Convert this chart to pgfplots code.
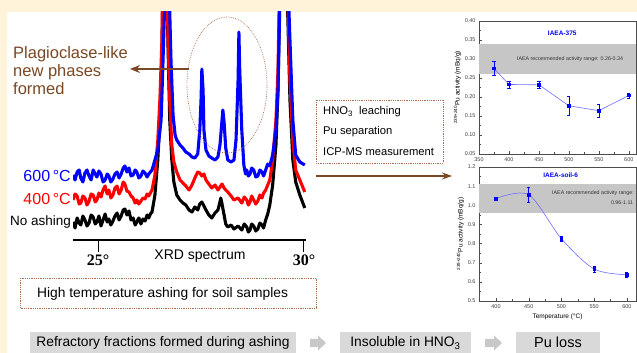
\documentclass[border=0pt]{standalone}
\usepackage{fontspec}
\setmainfont{Liberation Sans}
\newfontfamily\tnr{Liberation Serif}
\usepackage{pgfplots}
\pgfplotsset{compat=1.18}
\usetikzlibrary{arrows.meta}
\definecolor{cream}{RGB}{255,244,218}
\definecolor{brn}{RGB}{122,72,36}
\definecolor{dotbrn}{RGB}{170,110,80}
\definecolor{boxgray}{RGB}{217,217,217}
\definecolor{arrgray}{RGB}{200,200,200}
\definecolor{lineblue}{RGB}{110,110,255}
\newcommand\fs[1]{\fontsize{#1}{#1}\selectfont}
\tikzset{fdot/.style={dotbrn, line width=0.7pt, dash pattern=on 0.7pt off 1.1pt}}
\begin{document}
\begin{tikzpicture}[x=1pt,y=1pt]
\useasboundingbox (0,0) rectangle (637,353);
\fill[cream] (0,0) rectangle (637,353);
\fill[white] (7,0) rectangle (637,341);

% ---------- XRD spectra ----------
\begin{axis}[at={(73pt,113pt)}, anchor=south west, scale only axis,
  width=233pt, height=228pt,
  xmin=24.39, xmax=30.05, ymin=0, ymax=228,
  axis x line=bottom, axis y line=none,
  x axis line style={-, line width=1.8pt},
  xtick={25,30}, xticklabels={{\tnr\bfseries 25°},{\tnr\bfseries 30°}},
  xticklabel style={font=\fs{16}, inner sep=1pt, yshift=-2pt},
  tick align=outside, major tick length=12pt,
  x tick style={line width=1pt, black},
  clip=true]
\addplot[black, line width=3.1pt, line join=round] coordinates {
(24.39,18)(24.44,12)(24.49,22)(24.54,17)(24.58,15)(24.63,24)(24.68,20)(24.73,14)(24.78,17)(24.83,25)(24.88,23)(24.93,16)(24.97,18)(25.02,24)(25.07,14)(25.12,20)(25.17,26)(25.22,18)(25.26,21)(25.31,15)(25.36,19)(25.41,24)(25.46,27)(25.51,20)(25.56,24)(25.61,30)(25.65,31)(25.70,25)(25.75,29)(25.80,20)(25.85,22)(25.90,15)(25.94,18)(25.99,22)(26.04,16)(26.09,21)(26.14,19)(26.19,25)(26.23,22)(26.27,26)(26.31,28)
(26.38,45)(26.45,80)(26.50,120)(26.55,180)(26.57,250)(26.62,320)(26.67,250)(26.70,190)(26.74,120)(26.79,80)(26.84,58)(26.91,45)(26.99,40)(27.06,37)(27.13,35)(27.21,30)(27.28,28)(27.35,33)(27.42,30)(27.47,36)(27.52,38)(27.57,34)(27.62,30)(27.69,25)(27.76,22)(27.84,27)(27.91,30)(27.96,38)(27.98,42)(28.01,36)(28.06,25)(28.10,16)(28.15,13)(28.23,15)(28.30,11)(28.40,14)
(28.49,10)(28.55,16)(28.61,13)(28.65,8)(28.69,10)(28.73,16)(28.78,14)(28.83,9)(28.88,11)(28.93,17)(28.98,15)(29.02,12)(29.07,20)(29.12,26)(29.17,35)
(29.24,55)(29.32,95)(29.37,150)(29.41,240)(29.46,320)(29.51,320)(29.56,290)(29.61,220)(29.66,140)(29.73,80)(29.80,58)(29.90,45)(30.02,32)};
\addplot[red, line width=3.1pt, line join=round] coordinates {
(24.39,40)(24.44,46)(24.49,44)(24.54,36)(24.58,37)(24.63,44)(24.68,42)(24.73,35)(24.78,39)(24.83,46)(24.88,45)(24.93,38)(24.97,40)(25.02,47)(25.07,43)(25.12,50)(25.17,54)(25.22,46)(25.26,50)(25.31,42)(25.36,45)(25.41,52)(25.46,54)(25.51,46)(25.56,50)(25.61,58)(25.65,56)(25.70,49)(25.75,48)(25.80,44)(25.85,42)(25.90,37)(25.94,40)(25.99,36)(26.04,39)(26.09,42)(26.14,41)(26.19,46)(26.23,44)(26.27,47)(26.31,50)
(26.38,65)(26.45,100)(26.50,140)(26.55,200)(26.57,260)(26.62,330)(26.67,260)(26.70,200)(26.74,140)(26.79,95)(26.84,78)(26.91,68)(26.99,60)(27.06,57)(27.13,54)(27.21,50)(27.28,55)(27.35,62)(27.42,68)(27.47,67)(27.52,64)(27.57,66)(27.62,60)(27.69,56)(27.76,52)(27.84,55)(27.91,50)(27.96,53)(28.01,56)(28.06,52)(28.10,50)(28.15,48)(28.23,44)(28.30,40)(28.40,42)
(28.49,37)(28.55,43)(28.61,40)(28.65,35)(28.69,38)(28.73,44)(28.78,40)(28.83,36)(28.88,39)(28.93,45)(28.98,42)(29.02,47)(29.07,50)(29.12,55)(29.17,60)
(29.24,80)(29.32,120)(29.37,170)(29.41,260)(29.46,330)(29.51,330)(29.56,300)(29.61,240)(29.66,160)(29.73,100)(29.80,70)(29.90,60)(30.02,48)};
\addplot[blue, line width=3.1pt, line join=round] coordinates {
(24.39,65)(24.44,60)(24.49,68)(24.54,70)(24.58,62)(24.63,58)(24.68,67)(24.73,70)(24.78,64)(24.83,60)(24.88,70)(24.93,66)(24.97,63)(25.02,69)(25.07,66)(25.12,58)(25.17,60)(25.22,66)(25.26,64)(25.31,58)(25.36,61)(25.41,66)(25.46,68)(25.51,62)(25.56,66)(25.61,72)(25.65,74)(25.70,68)(25.75,72)(25.80,64)(25.85,65)(25.90,70)(25.94,68)(25.99,62)(26.04,64)(26.09,69)(26.14,67)(26.19,63)(26.23,66)(26.27,68)(26.31,70)
(26.38,80)(26.45,90)(26.53,120)(26.57,170)(26.62,240)(26.67,330)(26.72,260)(26.77,180)(26.82,125)(26.87,105)(26.91,100)(26.99,95)(27.06,92)(27.13,88)(27.21,86)(27.28,83)(27.35,82)(27.42,86)(27.47,110)(27.50,140)(27.52,171)(27.55,150)(27.57,110)(27.62,90)(27.69,84)(27.76,82)(27.84,80)(27.91,83)(27.96,95)(28.01,120)(28.03,130)(28.06,118)(28.10,92)(28.15,80)(28.23,78)(28.30,80)(28.35,100)(28.40,160)(28.42,208)(28.44,170)(28.49,110)
(28.54,75)(28.58,66)(28.61,70)(28.65,64)(28.69,66)(28.73,72)(28.78,70)(28.83,63)(28.88,64)(28.93,70)(28.98,68)(29.02,64)(29.07,70)(29.12,76)(29.17,74)
(29.24,85)(29.32,110)(29.37,150)(29.41,230)(29.46,320)(29.51,330)(29.56,320)(29.61,260)(29.66,200)(29.73,120)(29.80,85)(29.90,78)(30.02,75)};
\end{axis}

% ellipse and arrow
\draw[fdot] (227,268) ellipse (40 and 68);
\draw[brn, line width=1.8pt, -{Stealth[length=10pt,width=8pt]}] (189,284) -- (130,284);
\node[brn, anchor=base west, inner sep=0, font=\fs{16.5}] at (13,294) {Plagioclase-like};
\node[brn, anchor=base west, inner sep=0, font=\fs{16.5}] at (13,276) {new phases};
\node[brn, anchor=base west, inner sep=0, font=\fs{16.5}] at (13,258) {formed};

\node[blue, anchor=base east, inner sep=0, font=\fs{16}] at (71,171) {600\,°C};
\node[red, anchor=base east, inner sep=0, font=\fs{16}] at (71,148) {400\,°C};
\node[black, anchor=base east, inner sep=0, font=\fs{13.5}] at (71,127) {No ashing};
\node[anchor=base, inner sep=0, font=\fs{14}] at (200,93) {XRD spectrum};

% box 1
\draw[fdot] (20,75) rectangle (316,45);
\node[anchor=west, inner sep=0, font=\fs{13.8}] at (37,59) {High temperature ashing for soil samples};

% middle box
\draw[fdot] (316,253) rectangle (443,190);
\node[anchor=west, inner sep=0, font=\fs{11.2}] at (323,241) {HNO\textsubscript{3}\ \ leaching};
\node[anchor=west, inner sep=0, font=\fs{11.2}] at (323,221) {Pu separation};
\node[anchor=west, inner sep=0, font=\fs{11.2}] at (323,201) {ICP-MS measurement};
\draw[brn, line width=1.5pt, -{Stealth[length=10pt,width=7pt]}] (316,177) -- (452,177);

% bottom row
\fill[boxgray] (30,0) rectangle (296,21);
\node[font=\fs{13.8}, inner sep=0] at (163,10) {Refractory fractions formed during ashing};
\fill[arrgray] (310,6)--(318,6)--(318,2.5)--(326,10)--(318,17.5)--(318,14)--(310,14)--cycle;
\fill[boxgray] (340,0) rectangle (471,21);
\node[font=\fs{13.8}, inner sep=0] at (405.5,10) {Insoluble in HNO\textsubscript{3}};
\fill[arrgray] (485,6)--(494,6)--(494,2.5)--(502,10)--(494,17.5)--(494,14)--(485,14)--cycle;
\fill[boxgray] (516,0) rectangle (600,21);
\node[font=\fs{14.5}, inner sep=0] at (558,10.5) {Pu loss};

% ---------- top right chart ----------
\begin{axis}[at={(479pt,199pt)}, anchor=south west, scale only axis,
  width=157pt, height=133pt,
  xmin=350, xmax=612, ymin=0.05, ymax=0.40,
  xtick={350,400,450,500,550,600},
  ytick={0.05,0.10,0.15,0.20,0.25,0.30,0.35,0.40},
  minor x tick num=1, minor y tick num=1,
  xtick pos=bottom, ytick pos=left, tick align=inside,
  major tick length=2.5pt, minor tick length=1.5pt,
  axis line style={black!70, line width=0.6pt},
  tick style={black!70, line width=0.4pt},
  ticklabel style={font=\fs{5.5}, text=black!75},
  yticklabel style={/pgf/number format/.cd, fixed, fixed zerofill, precision=2},
  /pgf/number format/assume math mode=true,
  xticklabel style={yshift=-0.5pt},
  ylabel={\textsuperscript{239+240}Pu activity (mBq/g)},
  ylabel style={font=\fs{6.5}, yshift=-3pt},
  clip=true]
\addplot[draw=none, fill=gray!45, forget plot] coordinates {(350,0.26)(612,0.26)(612,0.34)(350,0.34)} -- cycle;
\addplot[lineblue, line width=0.6pt, mark=square*, mark size=1.3pt, mark options={blue, solid},
  error bars/.cd, y dir=both, y explicit,
  error bar style={blue, line width=0.5pt},
  error mark options={rotate=90, mark size=1.6pt, blue, line width=0.5pt}]
 coordinates {(375,0.275) +- (0,0.018) (400,0.233) +- (0,0.009) (450,0.232) +- (0,0.010)
   (500,0.177) +- (0,0.025) (550,0.164) +- (0,0.018) (600,0.204) +- (0,0.006)};
\node[blue, font=\bfseries\fs{6.5}] at (axis description cs:0.53,0.91) {IAEA-375};
\node[font=\fs{5.3}, text=black!80] at (axis cs:502,0.30) {IAEA recommended activity range: 0.26-0.34};
\end{axis}

% ---------- bottom right chart ----------
\begin{axis}[at={(479pt,52pt)}, anchor=south west, scale only axis,
  width=157pt, height=134pt,
  xmin=374, xmax=614, ymin=0.5, ymax=1.2,
  xtick={400,450,500,550,600},
  ytick={0.5,0.6,0.7,0.8,0.9,1.0,1.1,1.2},
  minor x tick num=1, minor y tick num=1,
  xtick pos=bottom, ytick pos=left, tick align=inside,
  major tick length=2.5pt, minor tick length=1.5pt,
  axis line style={black!70, line width=0.6pt},
  tick style={black!70, line width=0.4pt},
  ticklabel style={font=\fs{5.5}, text=black!75},
  yticklabel style={/pgf/number format/.cd, fixed, fixed zerofill, precision=1},
  /pgf/number format/assume math mode=true,
  xticklabel style={yshift=-0.5pt},
  xlabel={Temperature (°C)}, xlabel style={font=\fs{6.5}, yshift=2pt},
  ylabel={\textsuperscript{239+240}Pu activity (mBq/g)},
  ylabel style={font=\fs{6.5}, yshift=-3pt},
  clip=true]
\addplot[draw=none, fill=gray!45, forget plot] coordinates {(374,0.96)(614,0.96)(614,1.11)(374,1.11)} -- cycle;
\addplot[lineblue, line width=0.6pt, smooth, mark=square*, mark size=1.3pt, mark options={blue, solid},
  error bars/.cd, y dir=both, y explicit,
  error bar style={blue, line width=0.5pt},
  error mark options={rotate=90, mark size=1.6pt, blue, line width=0.5pt}]
 coordinates {(400,1.035) +- (0,0.006) (450,1.055) +- (0,0.04) (500,0.825) +- (0,0.015)
   (550,0.667) +- (0,0.017) (600,0.637) +- (0,0.012)};
\node[blue, font=\bfseries\fs{6.5}] at (axis description cs:0.52,0.94) {IAEA-soil-6};
\node[anchor=east, font=\fs{5.3}, text=black!80, inner sep=1pt] at (axis cs:612.5,1.064) {IAEA recommended activity range:};
\node[font=\fs{5.3}, text=black!80] at (axis cs:592.6,1.012) {0.96-1.11};
\end{axis}
\end{tikzpicture}
\end{document}
